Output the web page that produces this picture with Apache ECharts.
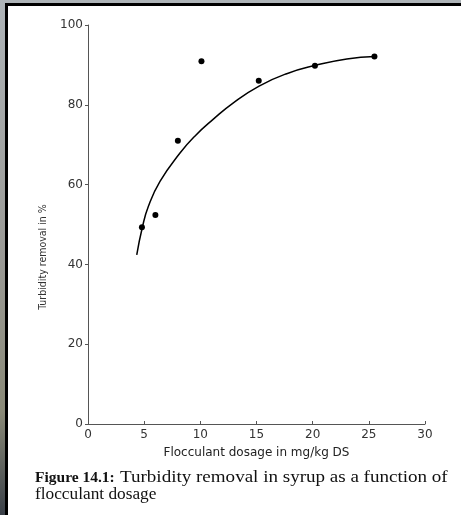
<!DOCTYPE html>
<html>
<head>
<meta charset="utf-8">
<script src="https://cdn.jsdelivr.net/npm/echarts@6/dist/echarts.min.js"></script>
<style>
html,body{margin:0;padding:0;background:#fff;}
#c{width:461px;height:515px;}
</style>
</head>
<body>
<div id="c"></div>
<script>
// Measured points (flocculant dosage mg/kg DS, turbidity removal %)
const measuredX = [4.8, 6.0, 8.0, 10.1, 15.2, 20.2, 25.5];
const measuredY = [49.3, 52.4, 71.0, 90.9, 86.0, 89.8, 92.1];
// Fitted curve
const curveX = [4.34, 4.84, 5.37, 6.41, 8.19, 9.53, 11.16, 12.94, 15.23, 17.69, 20.28, 23.04, 25.53];
const curveY = [42.4, 49.3, 54.5, 60.8, 67.9, 72.2, 76.4, 80.5, 84.7, 87.8, 89.9, 91.5, 92.1];
const xTicks = [0, 5, 10, 15, 20, 25, 30];
const yTicks = [0, 20, 40, 60, 80, 100];
const xTitle = 'Flocculant dosage in mg/kg DS';
const yTitle = 'Turbidity removal in %';
const captionBold = 'Figure 14.1:';
const captionLine1 = 'Turbidity removal in syrup as a function of';
const captionLine2 = 'flocculant dosage';

const chart = echarts.init(document.getElementById('c'), null, {renderer: 'canvas'});
const sans = 'DejaVu Sans';
const serif = '"Liberation Serif", "Times New Roman", serif';
chart.setOption({
  animation: false,
  backgroundColor: 'transparent',
  grid: {left: 88, right: 36, top: 25, bottom: 91},
  xAxis: {
    type: 'value', min: xTicks[0], max: xTicks[xTicks.length - 1], interval: 5,
    axisLine: {lineStyle: {color: '#555', width: 1}},
    axisTick: {inside: true, length: 3, lineStyle: {color: '#555'}},
    axisLabel: {color: '#333', fontFamily: sans, fontSize: 12, margin: 5},
    splitLine: {show: false},
    name: xTitle, nameLocation: 'middle', nameGap: 23,
    nameTextStyle: {color: '#222', fontFamily: sans, fontSize: 12}
  },
  yAxis: {
    type: 'value', min: yTicks[0], max: yTicks[yTicks.length - 1], interval: 20,
    axisLine: {lineStyle: {color: '#555', width: 1}},
    axisTick: {inside: false, length: 3, lineStyle: {color: '#555'}},
    axisLabel: {color: '#333', fontFamily: sans, fontSize: 12, margin: 5},
    splitLine: {show: false}
  },
  graphic: [
    {type: 'rect', z: -10, shape: {x: 0, y: 0, width: 461, height: 515},
      style: {fill: new echarts.graphic.LinearGradient(0, 0, 0, 1, [
        {offset: 0, color: '#aeb4b8'}, {offset: 0.5, color: '#9a9a96'}, {offset: 0.8, color: '#8a8a78'}, {offset: 1, color: '#3a4048'}])}},
    {type: 'rect', z: -9, shape: {x: 5, y: 3, width: 456, height: 512}, style: {fill: '#000'}},
    {type: 'rect', z: -8, shape: {x: 8, y: 6, width: 453, height: 509}, style: {fill: '#fff'}},
    {type: 'text', x: 43, y: 257, rotation: Math.PI / 2, z: 10,
      style: {text: yTitle, fill: '#333', font: '10.5px "Liberation Sans Narrow", "DejaVu Sans Condensed", sans-serif',
        textAlign: 'center', textVerticalAlign: 'middle'}},
    {type: 'text', x: 35, y: 478, z: 10,
      style: {text: captionBold, font: 'bold 15.5px ' + serif, fill: '#111', textVerticalAlign: 'middle'}},
    {type: 'text', x: 120, y: 478, z: 10, scaleX: 1.19, originX: 0, originY: 0,
      style: {text: captionLine1, font: '16px ' + serif, fill: '#111', textVerticalAlign: 'middle'}},
    {type: 'text', x: 35, y: 495, z: 10, scaleX: 1.08, originX: 0, originY: 0,
      style: {text: captionLine2, font: '16px ' + serif, fill: '#111', textVerticalAlign: 'middle'}}
  ],
  series: [
    {
      type: 'line', smooth: 0.5, showSymbol: false,
      data: curveX.map((x, i) => [x, curveY[i]]),
      lineStyle: {color: '#000', width: 1.5}, z: 2
    },
    {
      type: 'scatter', symbol: 'circle', symbolSize: 6,
      data: measuredX.map((x, i) => [x, measuredY[i]]),
      itemStyle: {color: '#000', opacity: 1}, z: 3
    }
  ]
});
</script>
</body>
</html>
